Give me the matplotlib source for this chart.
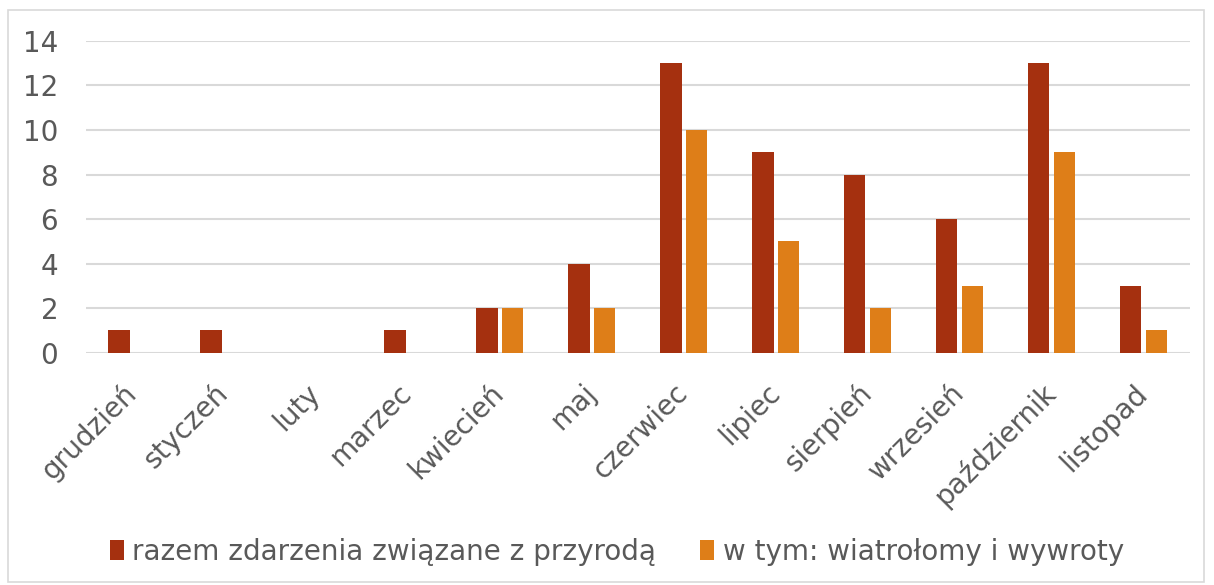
import numpy as np
import matplotlib.pyplot as plt
from matplotlib.patches import Rectangle

miesiace = ['grudzień', 'styczeń', 'luty', 'marzec', 'kwiecień', 'maj', 'czerwiec',
            'lipiec', 'sierpień', 'wrzesień', 'październik', 'listopad']
razem = [1, 1, 0, 1, 2, 4, 13, 9, 8, 6, 13, 3]
wiatrolomy = [0, 0, 0, 0, 2, 2, 10, 5, 2, 3, 9, 1]

plt.rcParams['font.family'] = ['DejaVu Sans']

fig = plt.figure(figsize=(12.14, 5.85), dpi=100)
ax = fig.add_axes([0.0708, 0.397, 0.9092, 0.533])

x = np.arange(len(miesiace))
szer = 0.23
ax.bar(x - 0.14, razem, szer, color='#A5300F', label='razem zdarzenia związane z przyrodą', zorder=3)
ax.bar(x + 0.14, wiatrolomy, szer, color='#DE7E18', label='w tym: wiatrołomy i wywroty', zorder=3)

ax.set_xlim(-0.5, len(miesiace) - 0.5)
ax.set_ylim(0, 14)
ax.set_yticks(range(0, 15, 2))
ax.set_xticks(x)
ax.set_xticklabels(miesiace, rotation=45, ha='right', va='center', rotation_mode='anchor',
                   fontsize=20, color='#595959')
ax.tick_params(axis='y', labelsize=20, colors='#595959', length=0, pad=20)
ax.tick_params(axis='x', length=0, pad=26)
ax.grid(axis='y', color='#D9D9D9', linewidth=1.5, zorder=0)
for s in ax.spines.values():
    s.set_visible(False)

leg = fig.legend(loc='center', bbox_to_anchor=(0.508, 0.057), ncol=2, frameon=False,
                 fontsize=20, handlelength=0.5, handleheight=0.7, handletextpad=0.3,
                 columnspacing=1.6, labelcolor='#595959')

fig.patches.append(Rectangle((8 / 1214, 3 / 585), 1196 / 1214, 572 / 585, transform=fig.transFigure,
                             fill=False, edgecolor='#D9D9D9', linewidth=1.2))

fig.savefig('out.png', dpi=100)
